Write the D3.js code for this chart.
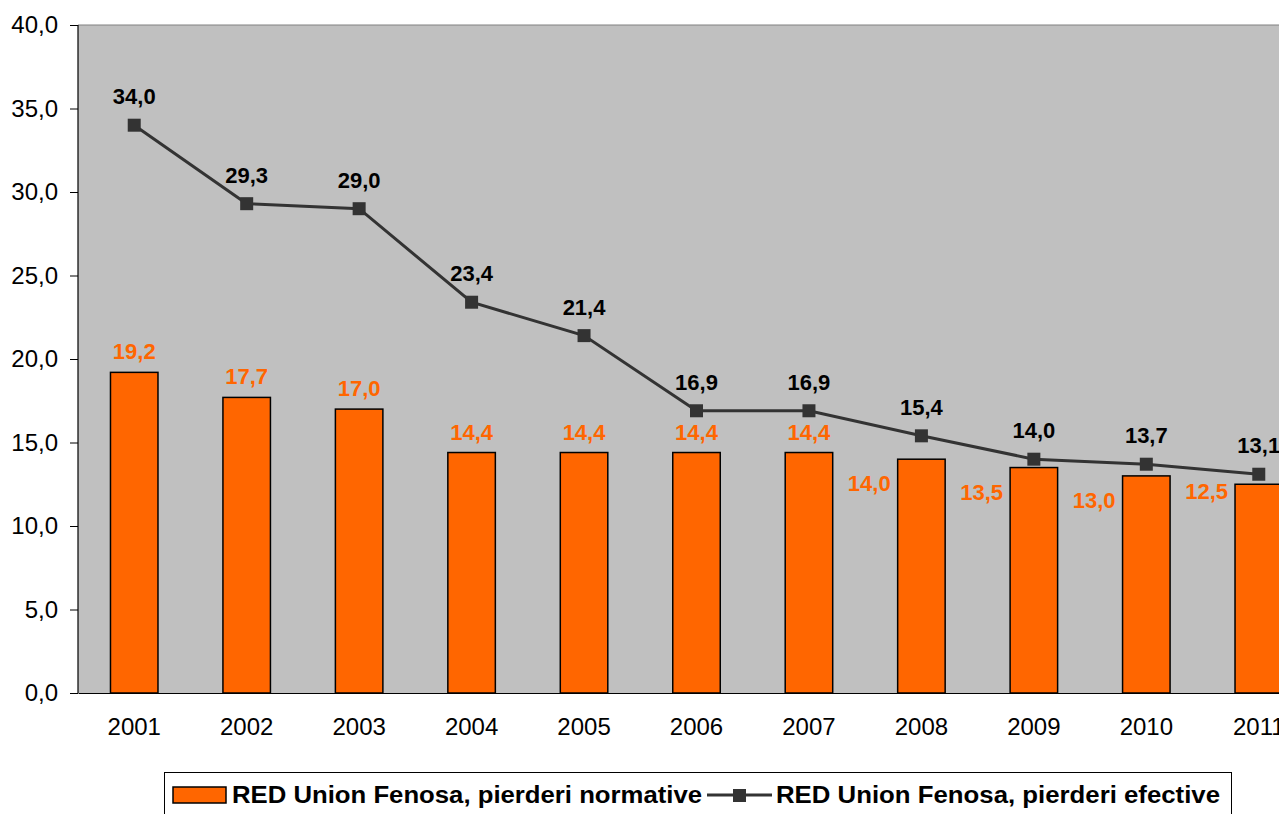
<!DOCTYPE html>
<html>
<head>
<meta charset="utf-8">
<script src="https://cdn.jsdelivr.net/npm/d3@7"></script>
<style>
  html, body { margin: 0; padding: 0; background: #fff; overflow: hidden; }
  svg { display: block; font-family: "Liberation Sans", Arial, sans-serif; }
</style>
</head>
<body>
<div id="chart"></div>
<script>
// chart data
const years = ["2001", "2002", "2003", "2004", "2005", "2006", "2007", "2008", "2009", "2010", "2011"];
const normative = [19.2, 17.7, 17.0, 14.4, 14.4, 14.4, 14.4, 14.0, 13.5, 13.0, 12.5];
const efective = [34.0, 29.3, 29.0, 23.4, 21.4, 16.9, 16.9, 15.4, 14.0, 13.7, 13.1];
const yTicks = [0, 5, 10, 15, 20, 25, 30, 35, 40];
// where the orange labels sit: above the bar, or to its left
const barLabelPos = ["top", "top", "top", "top", "top", "top", "top", "left", "left", "left", "leftHigh"];
const seriesNames = ["RED Union Fenosa, pierderi normative", "RED Union Fenosa, pierderi efective"];

const W = 1279, H = 814;
const margin = { top: 25, left: 78, bottom: 121 };
const plotW = 1237; // chart runs past the right edge of the window
const plotH = H - margin.top - margin.bottom;

const fmt = v => d3.format(".1f")(v).replace(".", ",");

const svg = d3.select("#chart").append("svg")
  .attr("width", W)
  .attr("height", H);

const x = d3.scaleBand()
  .domain(years)
  .range([margin.left, margin.left + plotW]);

const y = d3.scaleLinear()
  .domain([0, 40])
  .range([margin.top + plotH, margin.top]);

const barW = 47.5;
const cx = d => x(d) + x.bandwidth() / 2;

// plot background
svg.append("rect")
  .attr("x", margin.left)
  .attr("y", margin.top)
  .attr("width", plotW)
  .attr("height", plotH)
  .attr("fill", "#c0c0c0");

// top border line
svg.append("line")
  .attr("x1", margin.left).attr("x2", margin.left + plotW)
  .attr("y1", y(40)).attr("y2", y(40))
  .attr("stroke", "#808080").attr("stroke-width", 1);

// y axis
const yAxis = d3.axisLeft(y)
  .tickValues(yTicks)
  .tickSize(8)
  .tickPadding(12)
  .tickFormat(fmt);

const gy = svg.append("g")
  .attr("transform", `translate(${margin.left},0)`)
  .call(yAxis);
gy.select(".domain").attr("stroke", "#000").attr("stroke-width", 1.2).attr("d", `M0,${y(40)}V${y(0)}`);
gy.selectAll(".tick line").attr("stroke", "#000");
gy.selectAll(".tick text")
  .attr("fill", "#000")
  .attr("font-size", "24px")
  .attr("font-family", "Liberation Sans, Arial, sans-serif");

// x axis
const xAxis = d3.axisBottom(x).tickSize(0).tickPadding(25);
const gx = svg.append("g")
  .attr("transform", `translate(0,${y(0)})`)
  .call(xAxis);
gx.select(".domain").attr("stroke", "#000").attr("stroke-width", 1.2);
gx.selectAll(".tick text")
  .attr("fill", "#000")
  .attr("font-size", "24px")
  .attr("font-family", "Liberation Sans, Arial, sans-serif");

// bars
svg.append("g")
  .selectAll("rect")
  .data(years)
  .join("rect")
  .attr("x", d => cx(d) - barW / 2)
  .attr("y", (d, i) => y(normative[i]))
  .attr("width", barW)
  .attr("height", (d, i) => y(0) - y(normative[i]))
  .attr("fill", "#ff6600")
  .attr("stroke", "#000")
  .attr("stroke-width", 1.5);

// line
const line = d3.line()
  .x((d, i) => cx(years[i]))
  .y(d => y(d));

svg.append("path")
  .datum(efective)
  .attr("d", line)
  .attr("fill", "none")
  .attr("stroke", "#333333")
  .attr("stroke-width", 3);

const mk = 13;
svg.append("g")
  .selectAll("rect")
  .data(efective)
  .join("rect")
  .attr("x", (d, i) => cx(years[i]) - mk / 2)
  .attr("y", d => y(d) - mk / 2)
  .attr("width", mk)
  .attr("height", mk)
  .attr("fill", "#333333");

// line labels
svg.append("g")
  .selectAll("text")
  .data(efective)
  .join("text")
  .attr("x", (d, i) => cx(years[i]))
  .attr("y", d => y(d) - 21)
  .attr("text-anchor", "middle")
  .attr("font-size", "22px")
  .attr("font-weight", "bold")
  .attr("fill", "#000")
  .text(fmt);

// bar labels
svg.append("g")
  .selectAll("text")
  .data(normative)
  .join("text")
  .attr("x", (d, i) => barLabelPos[i] === "top" ? cx(years[i]) : cx(years[i]) - barW / 2 - 7)
  .attr("y", (d, i) => {
    const p = barLabelPos[i];
    if (p === "top") return y(d) - 13;
    if (p === "left") return y(d) + 32;
    return y(d) + 15;
  })
  .attr("text-anchor", (d, i) => barLabelPos[i] === "top" ? "middle" : "end")
  .attr("font-size", "22px")
  .attr("font-weight", "bold")
  .attr("fill", "#ff6600")
  .text(fmt);

// legend
const lg = svg.append("g");
lg.append("rect")
  .attr("x", 164.5).attr("y", 772.5)
  .attr("width", 1067).attr("height", 50)
  .attr("fill", "#fff")
  .attr("stroke", "#000")
  .attr("stroke-width", 1);

lg.append("rect")
  .attr("x", 173).attr("y", 787)
  .attr("width", 53).attr("height", 16)
  .attr("fill", "#ff6600")
  .attr("stroke", "#000")
  .attr("stroke-width", 1.5);

lg.append("text")
  .attr("x", 232).attr("y", 803)
  .attr("font-size", "23px")
  .attr("font-weight", "bold")
  .attr("textLength", 470)
  .attr("lengthAdjust", "spacingAndGlyphs")
  .text(seriesNames[0]);

lg.append("line")
  .attr("x1", 707).attr("x2", 772)
  .attr("y1", 795).attr("y2", 795)
  .attr("stroke", "#333333").attr("stroke-width", 3);
lg.append("rect")
  .attr("x", 733).attr("y", 789)
  .attr("width", 13).attr("height", 13)
  .attr("fill", "#333333");

lg.append("text")
  .attr("x", 776).attr("y", 803)
  .attr("font-size", "23px")
  .attr("font-weight", "bold")
  .attr("textLength", 444)
  .attr("lengthAdjust", "spacingAndGlyphs")
  .text(seriesNames[1]);
</script>
</body>
</html>
